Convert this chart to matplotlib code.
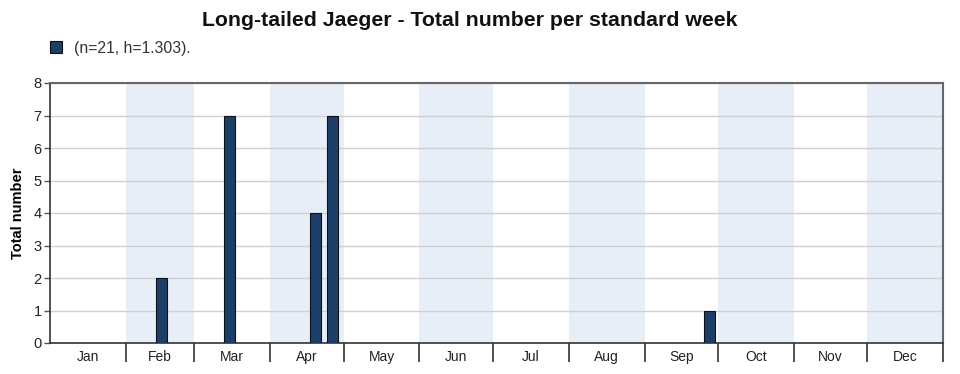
import numpy as np
import matplotlib.pyplot as plt
from matplotlib.patches import Patch

plt.rcParams['font.family'] = ['Liberation Sans', 'DejaVu Sans']

# data: standard weeks (7 days each) and total number seen
weeks = list(range(1, 53))
counts = [0] * 52
counts[7 - 1] = 2
counts[11 - 1] = 7
counts[16 - 1] = 4
counts[17 - 1] = 7
counts[39 - 1] = 1

months = ['Jan', 'Feb', 'Mar', 'Apr', 'May', 'Jun',
          'Jul', 'Aug', 'Sep', 'Oct', 'Nov', 'Dec']
month_days = [31, 28, 31, 30, 31, 30, 31, 31, 30, 31, 30, 31]
legend_label = '(n=21, h=1.303).'
title = 'Long-tailed Jaeger - Total number per standard week'

# month edges in day-of-year
edges = np.concatenate([[0], np.cumsum(month_days)])
mid = (edges[:-1] + edges[1:]) / 2

# week centres in day-of-year
weeks = np.array(weeks)
counts = np.array(counts)
centres = (weeks - 0.5) * 7
keep = counts > 0

fig = plt.figure(figsize=(9.6, 3.74), dpi=100)
ax = fig.add_axes([50 / 960, 1 - 343 / 374, 893 / 960, 260 / 374])

# shade every other month
for i in range(1, 12, 2):
    ax.axvspan(edges[i], edges[i + 1], color='#e8eef8', lw=0, zorder=0)

ax.bar(centres[keep], counts[keep], width=4.4, color='#1c3f69',
       edgecolor='#111111', linewidth=0.8, zorder=3)

ax.set_xlim(0, 365)
ax.set_ylim(0, 8)
ax.set_yticks(range(0, 9))
ax.yaxis.grid(True, color='#d0d0d0', lw=1, zorder=1)
ax.set_axisbelow(True)

# month labels in centre, boundary ticks hanging down
ax.set_xticks(mid)
ax.set_xticklabels(months, fontsize=10, color='#222222')
ax.tick_params(axis='x', which='major', length=0, pad=5)
ax.set_xticks(edges[1:], minor=True)
ax.tick_params(axis='x', which='minor', length=14, width=1.2, color='#333333')
ax.tick_params(axis='y', length=4, width=1, color='#555555', labelsize=10.5,
               labelcolor='#222222', pad=2)

for s in ['top', 'right']:
    ax.spines[s].set_color('#666666')
    ax.spines[s].set_linewidth(1.5)
ax.spines['left'].set_color('#333333')
ax.spines['bottom'].set_color('#333333')
ax.spines['left'].set_linewidth(1.2)
ax.spines['bottom'].set_linewidth(1.2)

ax.set_ylabel('Total number', fontsize=10.5, fontweight='bold', labelpad=6)

fig.text(470 / 960, 1 - 20 / 374, title, ha='center', va='center',
         fontsize=15.3, fontweight='bold', color='#111111')

ax.legend(handles=[Patch(facecolor='#1c3f69', edgecolor='#111111', lw=0.8)],
          labels=[legend_label], loc='center left',
          bbox_to_anchor=(36 / 960, 1 - 48 / 374), bbox_transform=fig.transFigure,
          frameon=False, handlelength=0.75, handleheight=0.75, handletextpad=0.8,
          fontsize=11.3, labelcolor='#333333')

plt.savefig('out.png', dpi=100)
